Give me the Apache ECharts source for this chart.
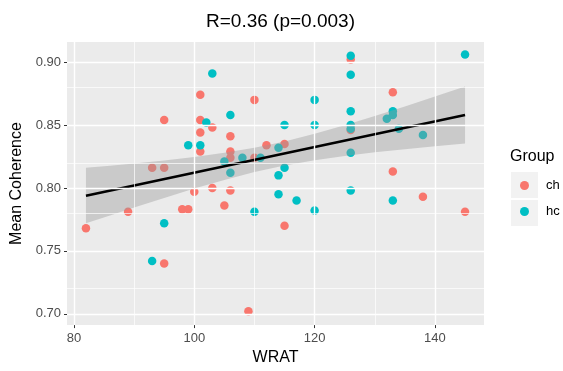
<!DOCTYPE html>
<html>
<head>
<meta charset="utf-8">
<script src="https://cdn.jsdelivr.net/npm/echarts@6/dist/echarts.min.js"></script>
<style>
  html, body { margin: 0; padding: 0; background: #fff; }
  #chart { width: 563px; height: 371px; }
</style>
</head>
<body>
<div id="chart"></div>
<script>
// group ch (red)
const chX = [82, 89, 93, 95, 95, 95, 98, 99, 100, 101, 101, 101, 101, 103, 103, 105,
  106, 106, 106, 106, 109, 110, 110, 112, 115, 115, 126, 126, 133, 133, 138, 145];
const chY = [0.768, 0.781, 0.816, 0.854, 0.816, 0.740, 0.783, 0.783, 0.797, 0.874, 0.854, 0.844, 0.829, 0.848, 0.800, 0.786,
  0.841, 0.829, 0.824, 0.798, 0.702, 0.870, 0.824, 0.834, 0.835, 0.770, 0.902, 0.846, 0.876, 0.813, 0.793, 0.781];

// group hc (teal)
const hcX = [93, 95, 99, 101, 102, 103, 105, 106, 106, 108, 110, 111, 114, 114, 114, 115, 115, 117,
  120, 120, 120, 126, 126, 126, 126, 126, 126, 126, 132, 133, 133, 133, 134, 138, 145];
const hcY = [0.742, 0.772, 0.834, 0.834, 0.852, 0.891, 0.821, 0.858, 0.812, 0.824, 0.781, 0.824, 0.832, 0.810, 0.795, 0.850, 0.816, 0.790,
  0.870, 0.850, 0.782, 0.905, 0.890, 0.861, 0.850, 0.847, 0.828, 0.798, 0.855, 0.861, 0.858, 0.790, 0.847, 0.842, 0.906];

// fitted line and its confidence band
const fitX = [82, 145];
const fitY = [0.7938, 0.858];
const bandX = [82, 86, 90, 95, 100, 105, 110, 115, 120, 125, 130, 135, 140, 145];
const bandLo = [0.772, 0.7782, 0.7845, 0.7921, 0.7995, 0.8064, 0.8126, 0.8178, 0.8220, 0.8254, 0.8283, 0.8308, 0.8332, 0.8354];
const bandHi = [0.816, 0.8176, 0.8195, 0.8219, 0.8247, 0.8280, 0.8320, 0.8370, 0.8430, 0.8498, 0.8571, 0.8648, 0.8726, 0.8806];

const xTicks = [80, 100, 120, 140];
const xMinor = [90, 110, 130];
const yTicks = [0.70, 0.75, 0.80, 0.85, 0.90];
const yMinor = [0.725, 0.775, 0.825, 0.875];

const font = 'Liberation Sans, Arial, sans-serif';
const pairs = (xs, ys) => xs.map((x, i) => [x, ys[i]]);

const chart = echarts.init(document.getElementById('chart'));

const gridLines = [].concat(
  xTicks.map(v => ({ xAxis: v, lineStyle: { width: 1.4 } })),
  xMinor.map(v => ({ xAxis: v, lineStyle: { width: 0.7 } })),
  yTicks.map(v => ({ yAxis: v, lineStyle: { width: 1.4 } })),
  yMinor.map(v => ({ yAxis: v, lineStyle: { width: 0.7 } }))
);

const option = {
  animation: false,
  title: [
    {
      text: 'R=0.36 (p=0.003)',
      left: 275.5,
      top: 7,
      textAlign: 'center',
      textStyle: { fontFamily: font, fontSize: 19, fontWeight: 'normal', color: '#000' }
    },
    {
      text: 'Group',
      left: 505,
      top: 144,
      textStyle: { fontFamily: font, fontSize: 16, fontWeight: 'normal', color: '#000' }
    }
  ],
  graphic: [
    { type: 'rect', left: 511, top: 172, shape: { width: 27, height: 26 }, style: { fill: '#F2F2F2' }, z: 0 },
    { type: 'rect', left: 511, top: 200, shape: { width: 27, height: 26 }, style: { fill: '#F2F2F2' }, z: 0 }
  ],
  legend: {
    data: ['ch', 'hc'],
    orient: 'vertical',
    left: 515,
    top: 167.5,
    icon: 'circle',
    itemWidth: 9,
    itemHeight: 9,
    itemGap: 0,
    textStyle: { fontFamily: font, fontSize: 13, color: '#000', lineHeight: 26, padding: [0, 0, 0, 12] }
  },
  grid: {
    left: 67,
    right: 79,
    top: 42,
    bottom: 41,
    show: true,
    backgroundColor: '#EBEBEB',
    borderWidth: 0
  },
  xAxis: {
    type: 'value',
    min: 78.85,
    max: 148.15,
    name: 'WRAT',
    nameLocation: 'middle',
    nameGap: 21,
    nameTextStyle: { fontFamily: font, fontSize: 16, color: '#000', verticalAlign: 'top' },
    axisLine: { show: false },
    axisTick: { show: true, length: 3, customValues: xTicks, lineStyle: { color: '#333' } },
    axisLabel: { customValues: xTicks, margin: 7, fontFamily: font, fontSize: 13, color: '#4D4D4D' },
    splitLine: { show: false }
  },
  yAxis: {
    type: 'value',
    min: 0.691,
    max: 0.916,
    name: 'Mean Coherence',
    nameLocation: 'middle',
    nameGap: 39,
    nameTextStyle: { fontFamily: font, fontSize: 16, color: '#000' },
    axisLine: { show: false },
    axisTick: { show: true, length: 3, customValues: yTicks, lineStyle: { color: '#333' } },
    axisLabel: {
      customValues: yTicks,
      margin: 6,
      fontFamily: font,
      fontSize: 13,
      color: '#4D4D4D',
      formatter: v => v.toFixed(2)
    },
    splitLine: { show: false }
  },
  series: [
    {
      name: 'grid',
      type: 'line',
      data: [],
      silent: true,
      z: 1,
      markLine: {
        silent: true,
        symbol: 'none',
        label: { show: false },
        lineStyle: { color: '#FFFFFF', type: 'solid' },
        emphasis: { disabled: true },
        data: gridLines
      }
    },
    {
      name: 'ch',
      type: 'scatter',
      data: pairs(chX, chY),
      symbolSize: 8.5,
      itemStyle: { color: '#F8766D', opacity: 1 },
      z: 2
    },
    {
      name: 'hc',
      type: 'scatter',
      data: pairs(hcX, hcY),
      symbolSize: 8.5,
      itemStyle: { color: '#00BFC4', opacity: 1 },
      z: 2
    },
    {
      name: 'band',
      type: 'custom',
      silent: true,
      z: 3,
      data: [0],
      renderItem: (params, api) => {
        const pts = bandX.map((x, i) => api.coord([x, bandHi[i]]));
        for (let i = bandX.length - 1; i >= 0; i--) {
          pts.push(api.coord([bandX[i], bandLo[i]]));
        }
        return {
          type: 'polygon',
          shape: { points: pts },
          style: { fill: 'rgba(153,153,153,0.4)' }
        };
      }
    },
    {
      name: 'fit',
      type: 'line',
      data: pairs(fitX, fitY),
      symbol: 'none',
      silent: true,
      lineStyle: { color: '#000', width: 2.6 },
      z: 4
    }
  ]
};

chart.setOption(option);
window.onresize = () => {
  chart.resize();
};
</script>
</body>
</html>
